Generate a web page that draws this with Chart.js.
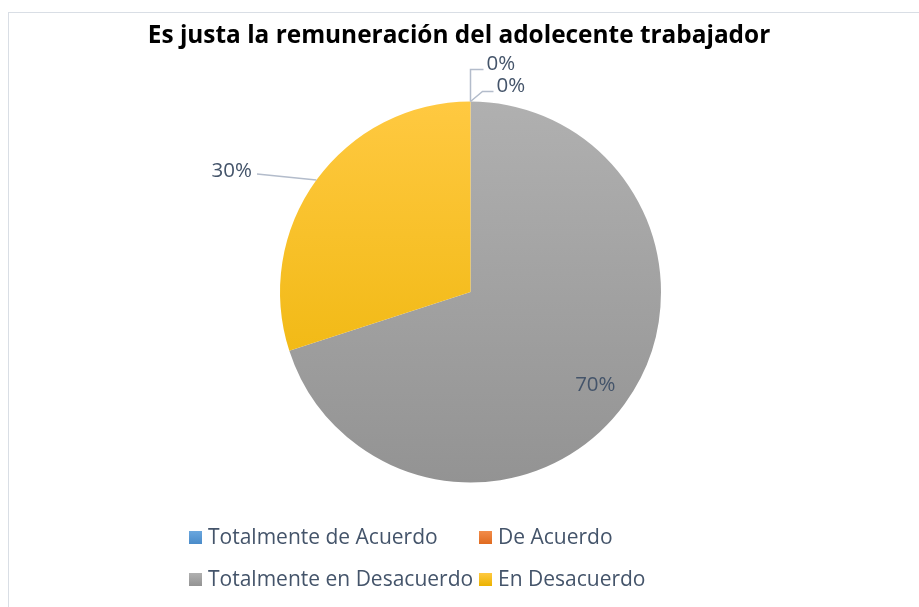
<!DOCTYPE html>
<html>
<head>
<meta charset="utf-8">
<script src="https://cdn.jsdelivr.net/npm/chart.js@4.4.1/dist/chart.umd.min.js"></script>
<style>
  html, body { margin: 0; padding: 0; background: #fff; }
  body { width: 919px; height: 607px; overflow: hidden; position: relative; }
  #marco { position: absolute; left: 8px; top: 12px; width: 1000px; height: 700px; border: 1px solid #d9dee5; box-sizing: border-box; }
  #grafico { position: absolute; left: 0; top: 0; }
</style>
</head>
<body>
<div id="marco"></div>
<canvas id="grafico" width="919" height="607"></canvas>
<script>
// datos del grafico
var titulo = "Es justa la remuneración del adolecente trabajador";
var categorias = ["Totalmente de Acuerdo", "De Acuerdo", "Totalmente en Desacuerdo", "En Desacuerdo"];
var porcentajes = [0, 0, 70, 30];
var etiquetas = ["0%", "0%", "70%", "30%"];

// colores (arriba claro, abajo oscuro, como en Excel)
var coloresArriba = ['#6aa7de', '#f28c4a', '#b0b0b0', '#ffc941'];
var coloresAbajo = ['#4a8bc9', '#e06b20', '#939393', '#ebb200'];
var colorTexto = '#44546a';
var colorGuia = '#b3bccb';
var fuente = '"Open Sans"';

function degradado(ctx, i, y0, y1) {
    var g = ctx.createLinearGradient(0, y0, 0, y1);
    g.addColorStop(0, coloresArriba[i]);
    g.addColorStop(1, coloresAbajo[i]);
    return g;
}

const extras = {
    id: 'extras',
    afterDatasetsDraw: function(chart) {
        var ctx = chart.ctx;
        var arcos = chart.getDatasetMeta(0).data;
        ctx.save();

        // titulo
        ctx.fillStyle = '#000';
        ctx.font = 'bold 24.4px ' + fuente;
        ctx.textAlign = 'center';
        ctx.textBaseline = 'alphabetic';
        ctx.fillText(titulo, 459, 43);

        // etiquetas de datos
        ctx.font = '20.5px ' + fuente;
        ctx.fillStyle = colorTexto;
        ctx.strokeStyle = colorGuia;
        ctx.lineWidth = 1.5;
        arcos.forEach(function(a, i) {
            var p = a.getProps(['x', 'y', 'startAngle', 'endAngle', 'outerRadius']);
            var medio = (p.startAngle + p.endAngle) / 2;
            var bx = p.x + Math.cos(medio) * p.outerRadius;
            var by = p.y + Math.sin(medio) * p.outerRadius;
            if (i == 0) {
                ctx.beginPath();
                ctx.moveTo(bx, by);
                ctx.lineTo(bx, by - 32);
                ctx.lineTo(bx + 13, by - 32);
                ctx.stroke();
                ctx.textAlign = 'left';
                ctx.fillText(etiquetas[i], bx + 16, by - 32);
            } else if (i == 1) {
                ctx.beginPath();
                ctx.moveTo(bx, by);
                ctx.lineTo(bx + 12, by - 10);
                ctx.lineTo(bx + 23, by - 10);
                ctx.stroke();
                ctx.textAlign = 'left';
                ctx.fillText(etiquetas[i], bx + 26, by - 10);
            } else if (i == 3) {
                ctx.beginPath();
                ctx.moveTo(bx, by);
                ctx.lineTo(257, 174);
                ctx.stroke();
                ctx.textAlign = 'right';
                ctx.fillText(etiquetas[i], 252, 177);
            } else {
                var r = p.outerRadius * 0.81;
                ctx.textAlign = 'center';
                ctx.fillText(etiquetas[i], p.x + Math.cos(medio) * r, p.y + Math.sin(medio) * r + 8);
            }
        });

        // leyenda en dos columnas
        ctx.font = '21px ' + fuente;
        var colX = [189, 479];
        var filaY = [531, 573];
        categorias.forEach(function(c, i) {
            var x = colX[i % 2], y = filaY[Math.floor(i / 2)];
            ctx.fillStyle = degradado(ctx, i, y, y + 13);
            ctx.fillRect(x, y, 13, 13);
            ctx.fillStyle = colorTexto;
            ctx.textAlign = 'left';
            ctx.fillText(c, x + 19, y + 13);
        });
        ctx.restore();
    }
};

const ctx = document.getElementById('grafico').getContext('2d');
const miGrafico = new Chart(ctx, {
    type: 'pie',
    data: {
        labels: categorias,
        datasets: [{
            data: porcentajes,
            borderWidth: 0,
            backgroundColor: function(c) {
                var area = c.chart.chartArea;
                if (!area) return coloresArriba[c.dataIndex];
                return degradado(c.chart.ctx, c.dataIndex, area.top, area.bottom);
            }
        }]
    },
    options: {
        responsive: false,
        animation: false,
        layout: {
            padding: { left: 280, right: 258, top: 101, bottom: 124 }
        },
        plugins: {
            legend: { display: false },
            tooltip: { enabled: false },
            title: { display: false }
        }
    },
    plugins: [extras]
});
</script>
</body>
</html>
